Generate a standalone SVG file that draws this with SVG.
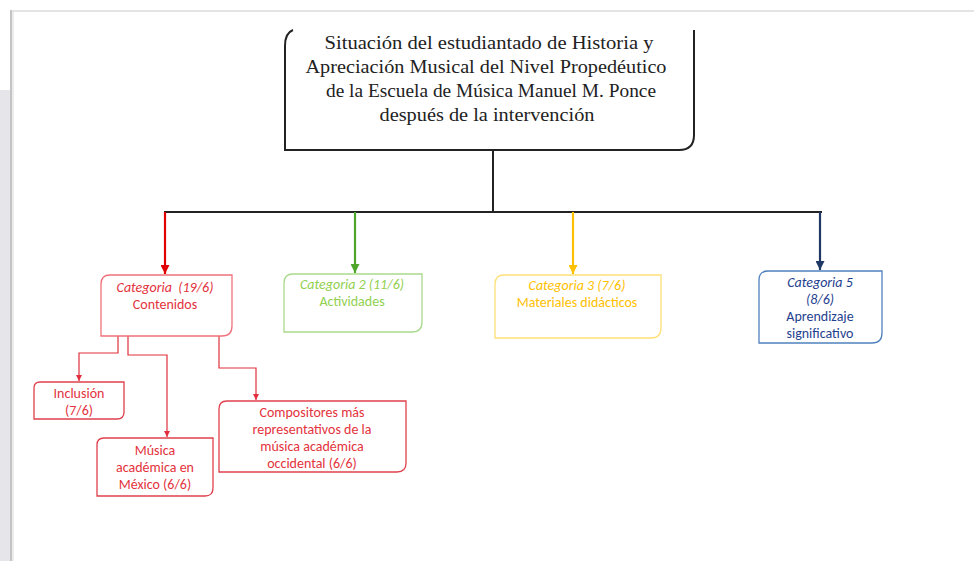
<svg xmlns="http://www.w3.org/2000/svg" width="974" height="561" viewBox="0 0 974 561">
<style>
.title{font-family:"Liberation Serif","Times New Roman",serif;font-size:19px;fill:#222;text-anchor:middle}
.lbl{font-family:Carlito,Lato,"Liberation Sans",sans-serif;font-size:14px;text-anchor:middle}
.it{font-style:italic}
.red{fill:#e3323c}
.grn{fill:#92d050}
.yel{fill:#ffc000}
.blu{fill:#1f3f8f}
.box{fill:#fff;stroke-width:1.3}
.conn{fill:none}
</style>
<defs>
<marker id="ahRed" viewBox="0 0 10 10" refX="10" refY="5" markerWidth="9" markerHeight="9" markerUnits="userSpaceOnUse" orient="auto"><path d="M0,0 L10,5 L0,10 z" fill="#e00000"/></marker>
<marker id="ahGrn" viewBox="0 0 10 10" refX="10" refY="5" markerWidth="9" markerHeight="9" markerUnits="userSpaceOnUse" orient="auto"><path d="M0,0 L10,5 L0,10 z" fill="#4ea72a"/></marker>
<marker id="ahYel" viewBox="0 0 10 10" refX="10" refY="5" markerWidth="9" markerHeight="9" markerUnits="userSpaceOnUse" orient="auto"><path d="M0,0 L10,5 L0,10 z" fill="#ffc000"/></marker>
<marker id="ahBlu" viewBox="0 0 10 10" refX="10" refY="5" markerWidth="9" markerHeight="9" markerUnits="userSpaceOnUse" orient="auto"><path d="M0,0 L10,5 L0,10 z" fill="#1f3864"/></marker>
<marker id="ahSub" viewBox="0 0 10 10" refX="10" refY="5" markerWidth="6" markerHeight="6" markerUnits="userSpaceOnUse" orient="auto"><path d="M0,0 L10,5 L0,10 z" fill="#e0303c"/></marker>
</defs>

<!-- page background -->
<rect x="0" y="0" width="974" height="561" fill="#ffffff"/>
<rect x="0" y="90" width="10" height="471" fill="#e6e6ea"/>
<rect x="10" y="10" width="964" height="2" fill="#e4e4e4"/>
<rect x="10" y="10" width="2" height="551" fill="#c4c4c4"/>
<rect x="12" y="12" width="2" height="549" fill="#ececec"/>

<!-- title node -->
<g id="title">
<path d="M293,30 Q285,33 285,46 L285,150 L679,150 Q694,150 694,135 L694,30" fill="#fff" stroke="#222" stroke-width="2"/>
<text class="title" x="489" y="49" textLength="329" lengthAdjust="spacingAndGlyphs">Situación del estudiantado de Historia y</text>
<text class="title" x="486" y="73" textLength="361" lengthAdjust="spacingAndGlyphs">Apreciación Musical del Nivel  Propedéutico</text>
<text class="title" x="491" y="97" textLength="330" lengthAdjust="spacingAndGlyphs">de la Escuela de Música Manuel M. Ponce</text>
<text class="title" x="487" y="121" textLength="215" lengthAdjust="spacingAndGlyphs">después de la intervención</text>
</g>

<!-- connectors -->
<g id="connectors">
<line x1="493" y1="151" x2="493" y2="211" stroke="#222" stroke-width="2"/>
<line x1="164" y1="212" x2="822" y2="212" stroke="#222" stroke-width="2"/>
<line x1="165" y1="212" x2="165" y2="274" stroke="#e00000" stroke-width="2.2" marker-end="url(#ahRed)"/>
<line x1="355" y1="212" x2="355" y2="273" stroke="#4ea72a" stroke-width="2.2" marker-end="url(#ahGrn)"/>
<line x1="573" y1="212" x2="573" y2="274" stroke="#ffc000" stroke-width="2.2" marker-end="url(#ahYel)"/>
<line x1="820" y1="212" x2="820" y2="270" stroke="#1f3864" stroke-width="2.2" marker-end="url(#ahBlu)"/>
<path class="conn" d="M118,336 L118,353 L79,353 L79,381" stroke="#e0303c" stroke-width="1.2" marker-end="url(#ahSub)"/>
<path class="conn" d="M128,336 L128,355 L167,355 L167,437" stroke="#e0303c" stroke-width="1.2" marker-end="url(#ahSub)"/>
<path class="conn" d="M219,336 L219,368 L256,368 L256,400" stroke="#e0303c" stroke-width="1.2" marker-end="url(#ahSub)"/>
</g>

<!-- category nodes -->
<g id="cat1">
<path class="box" d="M110,275 L232,275 L232,326 Q232,336 222,336 L101,336 L101,284 Q101,275 110,275 Z" stroke="#f0707a"/>
<text class="lbl it red" x="165" y="292" xml:space="preserve">Categoria  (19/6)</text>
<text class="lbl red" x="165" y="309">Contenidos</text>
</g>
<g id="cat2">
<path class="box" d="M293,274 L422,274 L422,322 Q422,332 412,332 L284,332 L284,283 Q284,274 293,274 Z" stroke="#a9d98a"/>
<text class="lbl it grn" x="352" y="289">Categoria 2 (11/6)</text>
<text class="lbl grn" x="352" y="306">Actividades</text>
</g>
<g id="cat3">
<path class="box" d="M504,275 L661,275 L661,328 Q661,338 651,338 L495,338 L495,284 Q495,275 504,275 Z" stroke="#ffe07a"/>
<text class="lbl it yel" x="577" y="290">Categoria 3 (7/6)</text>
<text class="lbl yel" x="577" y="307">Materiales didácticos</text>
</g>
<g id="cat5">
<path class="box" d="M768,271 L882,271 L882,333 Q882,343 872,343 L759,343 L759,280 Q759,271 768,271 Z" stroke="#4f81bd"/>
<text class="lbl it blu" x="820" y="287">Categoria 5</text>
<text class="lbl it blu" x="820" y="304">(8/6)</text>
<text class="lbl blu" x="820" y="321">Aprendizaje</text>
<text class="lbl blu" x="820" y="338">significativo</text>
</g>

<!-- sub nodes -->
<g id="inclusion">
<path class="box" d="M40,382 L124,382 L124,412 Q124,419 117,419 L34,419 L34,388 Q34,382 40,382 Z" stroke="#e0404c"/>
<text class="lbl red" x="79" y="398">Inclusión</text>
<text class="lbl red" x="79" y="415">(7/6)</text>
</g>
<g id="musica">
<path class="box" d="M104,438 L213,438 L213,488 Q213,496 205,496 L97,496 L97,445 Q97,438 104,438 Z" stroke="#e0404c"/>
<text class="lbl red" x="155" y="455">Música</text>
<text class="lbl red" x="155" y="472">académica en</text>
<text class="lbl red" x="155" y="489">México (6/6)</text>
</g>
<g id="compositores">
<path class="box" d="M227,401 L406,401 L406,463 Q406,472 397,472 L219,472 L219,409 Q219,401 227,401 Z" stroke="#e0404c"/>
<text class="lbl red" x="312" y="417">Compositores más</text>
<text class="lbl red" x="312" y="434">representativos de la</text>
<text class="lbl red" x="312" y="451">música académica</text>
<text class="lbl red" x="312" y="468">occidental (6/6)</text>
</g>
</svg>
